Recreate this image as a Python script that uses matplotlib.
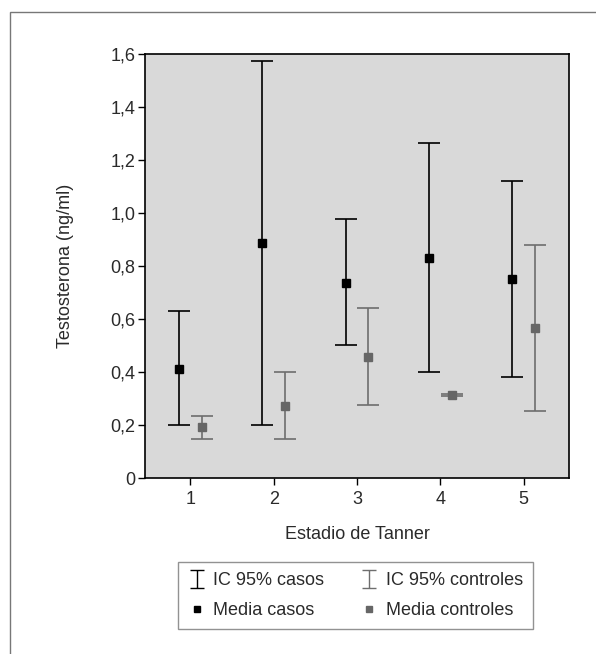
import matplotlib.pyplot as plt
from matplotlib.patches import Rectangle
from matplotlib.path import Path
from matplotlib.lines import Line2D
from matplotlib.ticker import FuncFormatter

plt.rcParams['font.family'] = ['Liberation Sans', 'DejaVu Sans']

# Estadio de Tanner
estadios = [1, 2, 3, 4, 5]

# casos: media e IC 95%
media_casos = [0.413, 0.888, 0.736, 0.831, 0.752]
ic_inf_casos = [0.200, 0.200, 0.502, 0.400, 0.382]
ic_sup_casos = [0.629, 1.576, 0.977, 1.265, 1.123]

# controles: media e IC 95%
media_ctrl = [0.191, 0.273, 0.458, 0.314, 0.567]
ic_inf_ctrl = [0.146, 0.146, 0.275, 0.311, 0.253]
ic_sup_ctrl = [0.233, 0.400, 0.642, 0.317, 0.881]

yticks = [0, 0.2, 0.4, 0.6, 0.8, 1.0, 1.2, 1.4, 1.6]

txt = '#2a2a2a'
gris = '#6e6e6e'
fs = 13

fig = plt.figure(figsize=(5.96, 6.54), dpi=100)
ax = fig.add_axes([0.2433, 0.2691, 0.7114, 0.6479])
ax.set_facecolor('#d9d9d9')

# marco exterior
fig.patches.append(Rectangle((10 / 596, -0.1), 1.2, 1 - 12 / 654 + 0.1,
                             transform=fig.transFigure, fill=False,
                             edgecolor='#777777', linewidth=1.0))

off = 0.135
x_c = [e - off for e in estadios]
x_k = [e + off for e in estadios]

err_c = [[m - lo for m, lo in zip(media_casos, ic_inf_casos)],
         [hi - m for m, hi in zip(media_casos, ic_sup_casos)]]
err_k = [[m - lo for m, lo in zip(media_ctrl, ic_inf_ctrl)],
         [hi - m for m, hi in zip(media_ctrl, ic_sup_ctrl)]]

ax.errorbar(x_c, media_casos, yerr=err_c, fmt='none', ecolor='black',
            elinewidth=1.2, capsize=8.2, capthick=1.2)
ax.errorbar(x_k, media_ctrl, yerr=err_k, fmt='none', ecolor=gris,
            elinewidth=1.2, capsize=8.2, capthick=1.2)
ax.plot(x_c, media_casos, 's', color='black', markersize=5.6, linestyle='none')
ax.plot(x_k, media_ctrl, 's', color='#666666', markersize=5.6, linestyle='none')

ax.set_xlim(0.456, 5.544)
ax.set_ylim(0, 1.6)
ax.set_xticks(estadios)
ax.set_yticks(yticks)
ax.yaxis.set_major_formatter(FuncFormatter(
    lambda v, p: '0' if v == 0 else f'{v:.1f}'.replace('.', ',')))
ax.tick_params(direction='out', length=5, width=1, labelsize=fs,
               labelcolor=txt, pad=2)
ax.tick_params(axis='x', pad=4)
for s in ax.spines.values():
    s.set_linewidth(1.2)

ax.set_ylabel('Testosterona (ng/ml)', fontsize=fs, labelpad=26, color=txt)
ax.set_xlabel('Estadio de Tanner', fontsize=fs, labelpad=13, color=txt)

# leyenda con icono de barra de error
forma_i = Path([(-0.83, -1), (0.83, -1), (0, -1), (0, 1), (-0.83, 1), (0.83, 1)],
               [Path.MOVETO, Path.LINETO, Path.MOVETO, Path.LINETO,
                Path.MOVETO, Path.LINETO])
h_ic_c = Line2D([], [], marker=forma_i, markersize=13, markerfacecolor='none',
                markeredgecolor='black', markeredgewidth=1.0, linestyle='none')
h_ic_k = Line2D([], [], marker=forma_i, markersize=13, markerfacecolor='none',
                markeredgecolor=gris, markeredgewidth=1.0, linestyle='none')
h_m_c = Line2D([], [], marker='s', markersize=5, color='black', linestyle='none')
h_m_k = Line2D([], [], marker='s', markersize=5, color='#666666', linestyle='none')

leg = fig.legend([h_ic_c, h_m_c, h_ic_k, h_m_k],
                 ['IC 95% casos', 'Media casos', 'IC 95% controles', 'Media controles'],
                 ncol=2, loc='upper left', bbox_to_anchor=(178 / 596, 1 - 562 / 654),
                 borderaxespad=0, fontsize=fs, frameon=True, fancybox=False,
                 edgecolor='#777777', handlelength=1.0, handletextpad=0.4,
                 columnspacing=2.0, borderpad=0.55, labelspacing=0.75,
                 labelcolor=txt)
leg.get_frame().set_linewidth(1.0)

fig.savefig('out.png', dpi=100)
